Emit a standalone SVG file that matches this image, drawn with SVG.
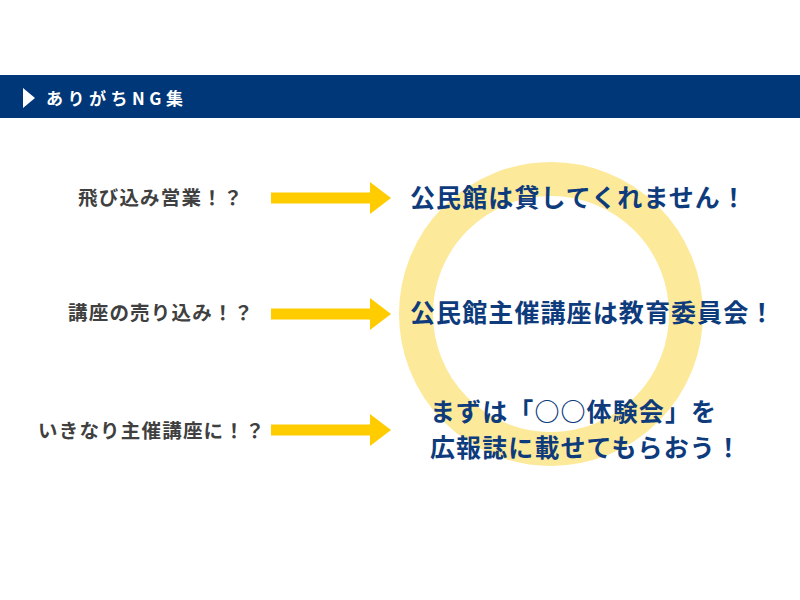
<svg xmlns="http://www.w3.org/2000/svg" width="800" height="600" viewBox="0 0 800 600">
<defs>
<style>
.hdr{font-family:"Noto Sans CJK JP","Noto Sans",sans-serif;font-weight:700;font-size:17px;fill:#ffffff;letter-spacing:4.5px}
.lbl{font-family:"Noto Sans CJK JP","Noto Sans",sans-serif;font-weight:700;font-size:19.5px;fill:#404040;letter-spacing:1.2px}
.ans{font-family:"Noto Sans CJK JP","Noto Sans",sans-serif;font-weight:700;font-size:25px;fill:#0e3b7c;letter-spacing:1.1px}
.arr{fill:#ffcc00}
</style>
</defs>
<rect width="800" height="600" fill="#ffffff"/>
<g id="header">
<rect x="0" y="75" width="800" height="43" fill="#003778"/>
<polygon points="23,88 35,98 23,108" fill="#ffffff"/>
<text class="hdr" x="46" y="105">ありがちNG集</text>
</g>
<g id="ring">
<circle cx="551" cy="314" r="135" fill="none" stroke="#fde99a" stroke-width="34"/>
</g>
<g id="connectors">
<polygon class="arr" points="271,192.5 370,192.5 370,182 391,198 370,214 370,203.5 271,203.5"/>
<polygon class="arr" points="271,308.5 370,308.5 370,298 391,314 370,330 370,319.5 271,319.5"/>
<polygon class="arr" points="271,424.5 370,424.5 370,414 391,430 370,446 370,435.5 271,435.5"/>
</g>
<g id="q1"><text class="lbl" x="78" y="205">飛び込み営業！？</text></g>
<g id="q2"><text class="lbl" x="68" y="320">講座の売り込み！？</text></g>
<g id="q3"><text class="lbl" x="38" y="438">いきなり主催講座に！？</text></g>
<g id="a1"><text class="ans" x="410" y="207">公民館は貸してくれません！</text></g>
<g id="a2"><text class="ans" x="410" y="322">公民館主催講座は教育委員会！</text></g>
<g id="a3"><text class="ans" x="430" y="421">まずは「○○体験会」を</text><text class="ans" x="430" y="457">広報誌に載せてもらおう！</text></g>
</svg>
